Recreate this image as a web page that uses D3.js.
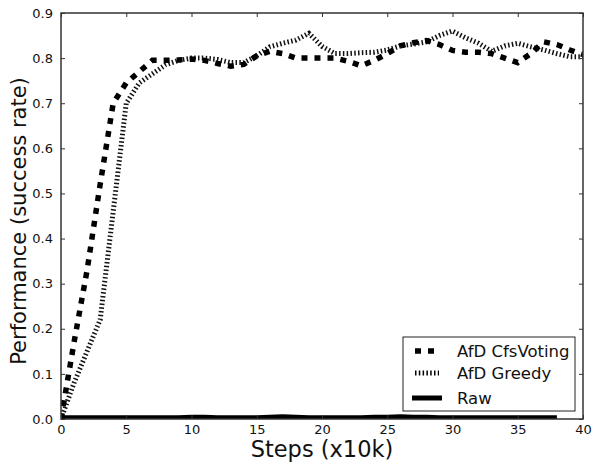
<!DOCTYPE html>
<html><head><meta charset="utf-8">
<script src="https://cdn.jsdelivr.net/npm/d3@7"></script>
<style>body{margin:0;background:#fff}svg{display:block}</style>
</head><body>
<script>
const steps = d3.range(0, 41);
const cfsVoting = [0.0,0.17,0.33,0.52,0.70,0.745,0.77,0.795,0.795,0.796,0.798,0.795,0.788,0.782,0.786,0.805,0.815,0.81,0.80,0.80,0.80,0.80,0.793,0.783,0.795,0.81,0.827,0.834,0.839,0.83,0.817,0.813,0.813,0.81,0.80,0.79,0.81,0.836,0.83,0.818,0.808];
const greedy = [0.0,0.08,0.15,0.22,0.46,0.70,0.745,0.765,0.785,0.795,0.80,0.80,0.797,0.79,0.79,0.805,0.825,0.833,0.84,0.855,0.826,0.81,0.81,0.812,0.813,0.818,0.827,0.831,0.836,0.85,0.86,0.845,0.833,0.815,0.827,0.833,0.825,0.818,0.81,0.803,0.803];
const rawSteps = d3.range(0, 39);
const raw = [0.003,0.003,0.003,0.003,0.003,0.003,0.003,0.003,0.003,0.003,0.004,0.004,0.003,0.003,0.003,0.003,0.004,0.005,0.004,0.003,0.003,0.003,0.003,0.003,0.004,0.004,0.005,0.004,0.004,0.003,0.003,0.003,0.003,0.003,0.003,0.003,0.003,0.003,0.003];
const xTicks = [0,5,10,15,20,25,30,35,40];
const yTicks = [0.0,0.1,0.2,0.3,0.4,0.5,0.6,0.7,0.8,0.9];
const legendLabels = ["AfD CfsVoting","AfD Greedy","Raw"];

const W=592,H=464;
const m={l:61,r:9,t:13,b:45};
const svg=d3.select("body").append("svg").attr("width",W).attr("height",H);
const x=d3.scaleLinear().domain([0,40]).range([m.l,W-m.r]);
const y=d3.scaleLinear().domain([0,0.9]).range([H-m.b,m.t]);
const font="DejaVu Sans, sans-serif";

svg.append("clipPath").attr("id","c").append("rect")
  .attr("x",m.l).attr("y",m.t-3).attr("width",W-m.r-m.l).attr("height",H-m.b-m.t+3);

const line=d3.line().x(d=>x(d[0])).y(d=>y(d[1]));
const g=svg.append("g").attr("clip-path","url(#c)");
g.append("path").datum(rawSteps.map((s,i)=>[s,raw[i]]))
  .attr("d",line).attr("fill","none").attr("stroke","#000").attr("stroke-width",5);
g.append("path").datum(steps.map((s,i)=>[s,greedy[i]]))
  .attr("d",line).attr("fill","none").attr("stroke","#111").attr("stroke-width",5)
  .attr("stroke-dasharray","1.5,2.3");
g.append("path").datum(steps.map((s,i)=>[s,cfsVoting[i]]))
  .attr("d",line).attr("fill","none").attr("stroke","#000").attr("stroke-width",5.5)
  .attr("stroke-dasharray","6,7");

svg.append("rect").attr("x",m.l).attr("y",m.t).attr("width",W-m.r-m.l).attr("height",H-m.b-m.t)
  .attr("fill","none").attr("stroke","#333").attr("stroke-width",1.5);

const xb=svg.append("g").attr("transform",`translate(0,${H-m.b})`)
  .call(d3.axisBottom(x).tickValues(xTicks).tickSizeInner(-4).tickSizeOuter(0).tickPadding(6).tickFormat(d3.format("d")));
const xt=svg.append("g").attr("transform",`translate(0,${m.t})`)
  .call(d3.axisTop(x).tickValues(xTicks).tickSizeInner(-4).tickSizeOuter(0).tickFormat(""));
const yl=svg.append("g").attr("transform",`translate(${m.l},0)`)
  .call(d3.axisLeft(y).tickValues(yTicks).tickSizeInner(-4).tickSizeOuter(0).tickPadding(8).tickFormat(d3.format(".1f")));
const yr=svg.append("g").attr("transform",`translate(${W-m.r},0)`)
  .call(d3.axisRight(y).tickValues(yTicks).tickSizeInner(-4).tickSizeOuter(0).tickFormat(""));
[xb,xt,yl,yr].forEach(a=>{a.select(".domain").remove();a.selectAll("line").attr("stroke","#333");
  a.selectAll("text").attr("font-family",font).attr("font-size",13).attr("fill","#111");});
xb.selectAll("text").attr("dy","0.71em");

svg.append("text").attr("x",(m.l+W-m.r)/2).attr("y",457).attr("text-anchor","middle")
  .attr("font-family",font).attr("font-size",22.5).attr("fill","#111").text("Steps (x10k)");
svg.append("text").attr("transform",`translate(26,${221}) rotate(-90)`).attr("text-anchor","middle")
  .attr("font-family",font).attr("font-size",21).attr("fill","#111").text("Performance (success rate)");

const lg=svg.append("g");
lg.append("rect").attr("x",403).attr("y",337).attr("width",172).attr("height",74)
  .attr("fill","#fff").attr("stroke","#222").attr("stroke-width",1);
const ly=[351,373,398];
const styles=[{w:5.5,da:"6,7"},{w:5,da:"1.5,2.3"},{w:5,da:null}];
legendLabels.forEach((t,i)=>{
  const l=lg.append("line").attr("x1",i===2?412:415).attr("x2",i===1?439:(i===2?442:438)).attr("y1",ly[i]).attr("y2",ly[i])
    .attr("stroke","#000").attr("stroke-width",styles[i].w);
  if(styles[i].da) l.attr("stroke-dasharray",styles[i].da);
  lg.append("text").attr("x",457).attr("y",ly[i]).attr("dy","0.36em").attr("font-family",font)
    .attr("font-size",16.5).attr("fill","#111").text(t);
});
</script>
</body></html>
